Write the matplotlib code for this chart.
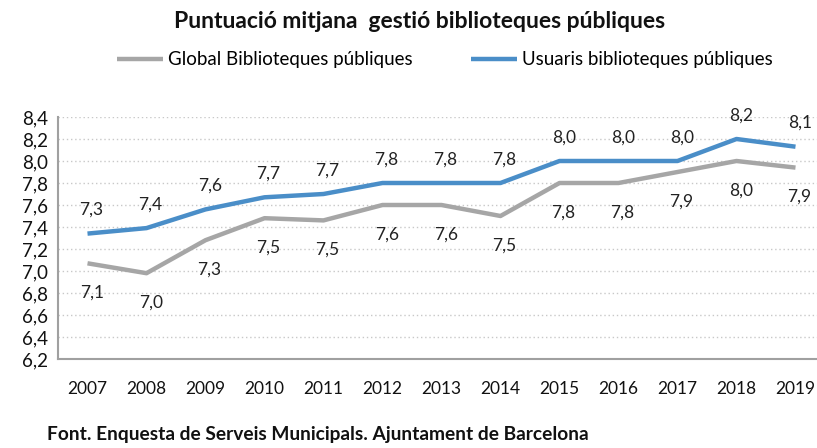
import numpy as np
import matplotlib
matplotlib.use('Agg')
import matplotlib.pyplot as plt
from matplotlib.ticker import FuncFormatter

plt.rcParams['font.family'] = ['Lato', 'DejaVu Sans']

years = [2007, 2008, 2009, 2010, 2011, 2012, 2013, 2014, 2015, 2016, 2017, 2018, 2019]
global_bib = [7.07, 6.98, 7.28, 7.48, 7.46, 7.60, 7.60, 7.50, 7.80, 7.80, 7.90, 8.00, 7.94]
usuaris_bib = [7.34, 7.39, 7.56, 7.67, 7.70, 7.80, 7.80, 7.80, 8.00, 8.00, 8.00, 8.20, 8.13]

blue = '#4A8EC8'
grey = '#A6A6A6'

def coma(v, pos=None):
    return ('%.1f' % v).replace('.', ',')

fig = plt.figure(figsize=(8.17, 4.48), dpi=100)
ax = fig.add_axes([58/817, 89/448, 767/817, 242/448])

x = np.arange(len(years))
ax.plot(x, global_bib, color=grey, lw=3.2, solid_capstyle='butt', label='Global Biblioteques públiques')
ax.plot(x, usuaris_bib, color=blue, lw=3.2, solid_capstyle='butt', label='Usuaris biblioteques públiques')

# etiquetes de valor: usuaris a sobre, global a sota
for i in x:
    ax.annotate(coma(usuaris_bib[i]), (i, usuaris_bib[i]), xytext=(3, 17), textcoords='offset points',
                ha='center', va='center', fontsize=12.5, color='#222222')
    ax.annotate(coma(global_bib[i]), (i, global_bib[i]), xytext=(3, -21), textcoords='offset points',
                ha='center', va='center', fontsize=12.5, color='#222222')

ax.set_xlim(-0.5, len(years) - 0.5)
ax.set_ylim(6.2, 8.4)
ax.set_yticks(np.arange(6.2, 8.41, 0.2))
ax.yaxis.set_major_formatter(FuncFormatter(coma))
ax.set_xticks(x)
ax.set_xticklabels([str(y) for y in years])
ax.tick_params(axis='both', length=0, colors='#111111')
ax.tick_params(axis='x', pad=16, labelsize=12.5)
ax.tick_params(axis='y', pad=7, labelsize=13.5)

ax.grid(axis='y', color='#C8C8C8', linestyle=(0, (1, 2)), lw=1)
ax.set_axisbelow(True)
for s in ['top', 'right']:
    ax.spines[s].set_visible(False)
for s in ['left', 'bottom']:
    ax.spines[s].set_color('#A0A0A0')
    ax.spines[s].set_linewidth(1.5)

fig.text(420/817, 1 - 21/448, 'Puntuació mitjana  gestió biblioteques públiques', ha='center', va='center',
         fontsize=16.5, fontweight='bold', color='#111111')
fig.legend(loc='center', bbox_to_anchor=(445/817, 1 - 60/448), ncol=2, frameon=False, fontsize=13.5,
           handlelength=2.45, handletextpad=0.27, columnspacing=3.1)
fig.text(47/817, 1 - 434/448, 'Font. Enquesta de Serveis Municipals. Ajuntament de Barcelona', ha='left', va='center',
         fontsize=13.8, fontweight='bold', color='#111111')

fig.savefig('out.png', dpi=100)
